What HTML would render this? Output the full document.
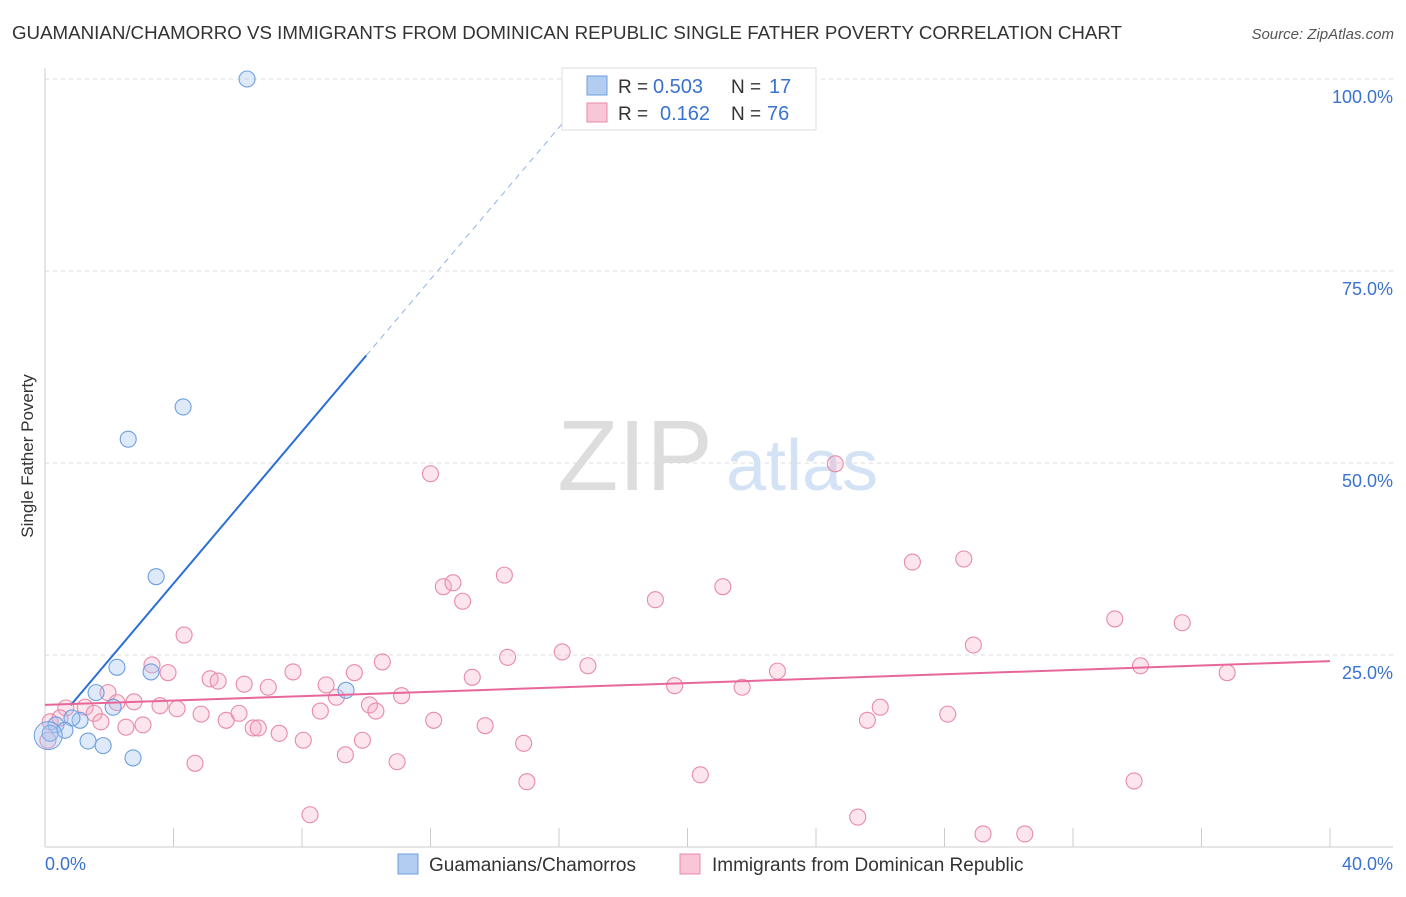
<!DOCTYPE html>
<html><head><meta charset="utf-8"><style>
body{margin:0;background:#fff;font-family:"Liberation Sans",sans-serif;}
svg text{font-family:"Liberation Sans",sans-serif;}
</style></head><body>
<svg width="1406" height="892" id="chart">
<text x="12" y="39" font-size="18.7" fill="#333" textLength="1110" lengthAdjust="spacingAndGlyphs">GUAMANIAN/CHAMORRO VS IMMIGRANTS FROM DOMINICAN REPUBLIC SINGLE FATHER POVERTY CORRELATION CHART</text>
<text x="1394" y="39" font-size="15" fill="#555" font-style="italic" text-anchor="end">Source: ZipAtlas.com</text>
<text x="33" y="456" font-size="17" fill="#333" text-anchor="middle" transform="rotate(-90 33 456)">Single Father Poverty</text>
<g><text x="635" y="490" font-size="100" fill="#ddd" font-family="Liberation Serif" text-anchor="middle">ZIP</text><text x="802" y="490" font-size="72" fill="#d4e2f5" text-anchor="middle">atlas</text></g>
<g id="grid"></g><g id="axes"></g><g id="pts"></g><g id="lines"></g>
<g>
<rect x="562" y="68" width="254" height="62" fill="#fff" stroke="#ddd"/>
<rect x="587" y="76" width="20" height="19" fill="#b3cdf0" stroke="#6e9fe0"/>
<rect x="587" y="103" width="20" height="19" fill="#f8c6d6" stroke="#e88aa8"/>
<text x="618" y="93" font-size="19" fill="#333">R =</text>
<text x="653" y="93" font-size="20" fill="#3a72d0">0.503</text>
<text x="731" y="93" font-size="19" fill="#333">N =</text>
<text x="769" y="93" font-size="20" fill="#3a72d0">17</text>
<text x="618" y="120" font-size="19" fill="#333">R =</text>
<text x="660" y="120" font-size="20" fill="#3a72d0">0.162</text>
<text x="731" y="120" font-size="19" fill="#333">N =</text>
<text x="767" y="120" font-size="20" fill="#3a72d0">76</text>
</g>
<g>
<rect x="398" y="854" width="20" height="20" fill="#b3cdf0" stroke="#6e9fe0"/>
<text x="429" y="871" font-size="19" fill="#333">Guamanians/Chamorros</text>
<rect x="680" y="854" width="20" height="20" fill="#f8c6d6" stroke="#e88aa8"/>
<text x="712" y="871" font-size="19" fill="#333">Immigrants from Dominican Republic</text>
</g>
<text x="45" y="870" font-size="18" fill="#3a72d0">0.0%</text>
<text x="1393" y="870" font-size="18" fill="#3a72d0" text-anchor="end">40.0%</text>
</svg>
<script>
const yTicks=[25,50,75,100];
const yTickLabels=["25.0%","50.0%","75.0%","100.0%"];
const blueX=[6.29,4.3,2.59,3.46,2.24,3.3,9.37,1.59,2.12,1.09,0.84,0.34,0.16,0.62,1.34,1.81,2.74];
const blueY=[100,57.3,53.1,35.2,23.4,22.8,20.4,20.1,18.2,16.5,16.8,15.9,14.8,15.2,13.8,13.2,11.6];
const pinkX=[12.0,24.6,27.0,28.6,14.3,12.4,12.7,13.0,21.1,19.0,33.3,35.4,4.33,28.9,16.1,14.4,10.5,3.33,3.83,16.9,34.1,7.72,9.63,22.8,36.8,13.3,5.14,5.39,6.2,6.95,8.75,19.6,21.7,1.96,9.07,11.1,2.77,2.24,0.65,1.25,3.58,4.11,8.57,10.1,10.3,26.0,4.86,6.04,28.1,1.53,5.64,12.1,1.74,3.05,2.52,6.48,6.64,13.7,25.6,7.29,8.04,9.88,14.9,9.35,4.67,10.96,20.4,15.0,33.9,8.25,25.3,29.2,30.5,0.16,0.09,0.47];
const pinkY=[48.6,49.9,37.1,37.5,35.4,33.9,34.4,32.0,33.9,32.2,29.7,29.2,27.6,26.3,25.4,24.7,24.1,23.7,22.7,23.6,23.6,22.8,22.7,22.9,22.7,22.1,21.9,21.6,21.2,20.8,21.1,21.0,20.8,20.1,19.5,19.7,18.9,18.8,18.1,18.2,18.4,18.0,17.7,18.5,17.7,18.2,17.3,17.4,17.3,17.4,16.5,16.5,16.3,15.9,15.6,15.5,15.5,15.8,16.5,14.8,13.9,13.9,13.5,12.0,10.9,11.1,9.4,8.5,8.6,4.2,3.9,1.7,1.7,16.3,13.9,16.8];
const blueFit=[4.95,14.5];
const pinkFit=[0.1425,18.5];
const X=v=>45+v*32.125, Y=v=>847-v*7.68;
const NS="http://www.w3.org/2000/svg";
function mk(p,t,a){const e=document.createElementNS(NS,t);for(const k in a)e.setAttribute(k,a[k]);document.getElementById(p).appendChild(e);return e;}
yTicks.forEach((t,i)=>{
 const g=mk('grid','line',{x1:45,x2:1393,y1:Y(t),y2:Y(t),stroke:'#ddd','stroke-dasharray':'4,4'});
 
 
 const tx=mk('grid','text',{x:1393,y:Y(t)+24,'font-size':18,fill:'#3a72d0','text-anchor':'end'});
 tx.textContent=yTickLabels[i];
 
 
});
const ax=mk('axes','line',{x1:45,x2:45,y1:68,y2:847,stroke:'#ccc'});


const bx=mk('axes','line',{x1:45,x2:1393,y1:847,y2:847,stroke:'#ccc'});


for(let i=0;i<=10;i++){const t=mk('axes','line',{x1:X(i*4),x2:X(i*4),y1:828,y2:847,stroke:'#ccc'});
 
 }
pinkX.forEach((v,i)=>{const c=mk('pts','circle',{cx:X(v),cy:Y(pinkY[i]),r:8,fill:'rgba(245,170,195,0.3)',stroke:'#e88aa8','stroke-width':1.1});
 
 });
blueX.forEach((v,i)=>{const c=mk('pts','circle',{cx:X(v),cy:Y(blueY[i]),r:8,fill:'rgba(160,195,240,0.35)',stroke:'#6e9fe0','stroke-width':1.1});
 
 });
const big=mk('pts','circle',{cx:X(0.1),cy:Y(14.5),r:14,fill:'rgba(160,195,240,0.35)',stroke:'#6e9fe0'});


const bf=x=>blueFit[0]*x+blueFit[1];
const l1=mk('lines','line',{x1:X(0.8),y1:Y(bf(0.8)),x2:X(10),y2:Y(bf(10)),stroke:'#2a6fd6','stroke-width':2});


const l2=mk('lines','line',{x1:X(10),y1:Y(bf(10)),x2:X(17.2),y2:Y(bf(17.2)),stroke:'#8fb2e8','stroke-width':1,'stroke-dasharray':'6,5'});


const pf=x=>pinkFit[0]*x+pinkFit[1];
const l3=mk('lines','line',{x1:X(0),y1:Y(pf(0)),x2:X(40),y2:Y(pf(40)),stroke:'#e8679a','stroke-width':2});


</script>
</body></html>
